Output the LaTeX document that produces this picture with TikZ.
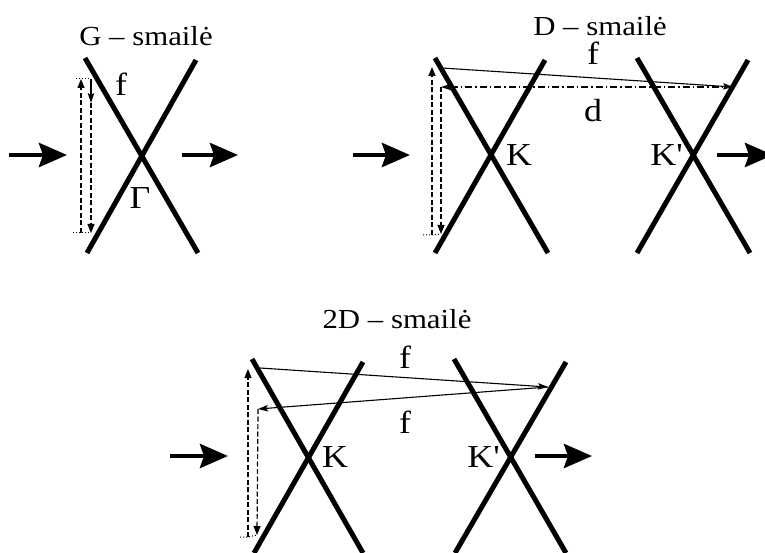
\documentclass[tikz,border=0pt]{standalone}
\usepackage{fontspec}
\newfontfamily\labfont{Liberation Serif}[FakeStretch=1.12]
\usetikzlibrary{arrows.meta}

\tikzset{
  barrier/.style={line width=5pt},
  flow/.style={line width=4.5pt,-{Stealth[length=28pt,width=24pt,inset=4pt]}},
  ray/.style={line width=1.1pt,-{Stealth[length=10pt,width=6.5pt,inset=2pt]}},
  back/.style={line width=1.2pt,dash pattern=on 5pt off 2.5pt,-{Triangle[length=9pt,width=7pt]}},
  dashdot/.style={line width=1.1pt,dash pattern=on 7pt off 3pt on 1.5pt off 3pt},
  guide/.style={line width=1pt,dotted},
  title/.style={font=\labfont\fontsize{27.5}{27.5}\selectfont,inner sep=0pt},
  lab/.style={font=\labfont\fontsize{32}{32}\selectfont,inner sep=0pt},
}

\begin{document}
\begin{tikzpicture}[x=1pt,y=-1pt]
\useasboundingbox (0,0) rectangle (765,553);
\clip (0,0) rectangle (765,553);

% G - smaile
\node[title] (tG) at (146,36) {G – smailė};
\draw[barrier] (85,58) -- (198,253) (196,60) -- (87,253);
\node[lab] (fG) at (121,84) {f};
\node[lab] (gam) at (140,198) {Γ};
\coordinate (gtop) at (91,79);
\coordinate (gmid) at (91,103);
\coordinate (gbot) at (91,233);
\coordinate (gupb) at (81,233);
\coordinate (gupt) at (81,79);
\draw[guide] (76,79) -- (gtop);
\draw[guide] (73,233) -- (gbot);
\draw[ray] (gtop) -- (gmid);
\draw[back] (gmid) -- (gbot);
\draw[back] (gupb) -- (gupt);
\draw[flow] (9,155) -- (67,155);
\draw[flow] (182,155) -- (238,155);

% D - smaile
\node[title] (tD) at (600,26) {D – smailė};
\draw[barrier] (435,58) -- (548,253) (545,60) -- (435,253);
\draw[barrier] (637,58) -- (750,253) (748,60) -- (637,253);
\node[lab,anchor=west] (KD) at (506,155) {K};
\node[lab,anchor=east] (KpD) at (683,155) {K'};
\coordinate (dstart) at (442,68);
\coordinate (dhit) at (733,87);
\coordinate (dret) at (441,87);
\coordinate (dbot) at (441,234);
\coordinate (dupb) at (432,235);
\coordinate (dupt) at (432,67);
\draw[ray] (dstart) -- (dhit);
\draw[dashdot,-{Stealth[length=10pt,width=6.5pt,inset=2pt]}] (dhit) -- (dret);
\node[lab] (fD) at (593,53) {f};
\node[lab] (dD) at (593,111) {d};
\draw[back] (dret) -- (dbot);
\draw[guide] (423,235) -- (dupb) -- (dbot);
\draw[back] (dupb) -- (dupt);
\draw[flow] (353,155) -- (410,155);
\draw[flow] (717,155) -- (773,155);

% 2D - smaile
\node[title] (t2D) at (397,319) {2D – smailė};
\draw[barrier] (252,359) -- (363,553) (363,362) -- (254,553);
\draw[barrier] (454,359) -- (566,553) (566,362) -- (455,553);
\node[lab,anchor=west] (K2) at (322,457) {K};
\node[lab,anchor=east] (Kp2) at (500,457) {K'};
\coordinate (sstart) at (260,368);
\coordinate (shit) at (548,387);
\coordinate (sret) at (258,409);
\coordinate (sbot) at (257,535);
\coordinate (supb) at (248,537);
\coordinate (supt) at (248,369);
\draw[ray] (sstart) -- (shit);
\draw[ray] (shit) -- (sret);
\node[lab] (f2a) at (405,357) {f};
\node[lab] (f2b) at (405,422) {f};
\draw[back] (sret) -- (sbot);
\draw[guide] (240,537) -- (supb) -- (sbot);
\draw[back] (supb) -- (supt);
\draw[flow] (170,456) -- (228,456);
\draw[flow] (535,456) -- (592,456);
\end{tikzpicture}
\end{document}
